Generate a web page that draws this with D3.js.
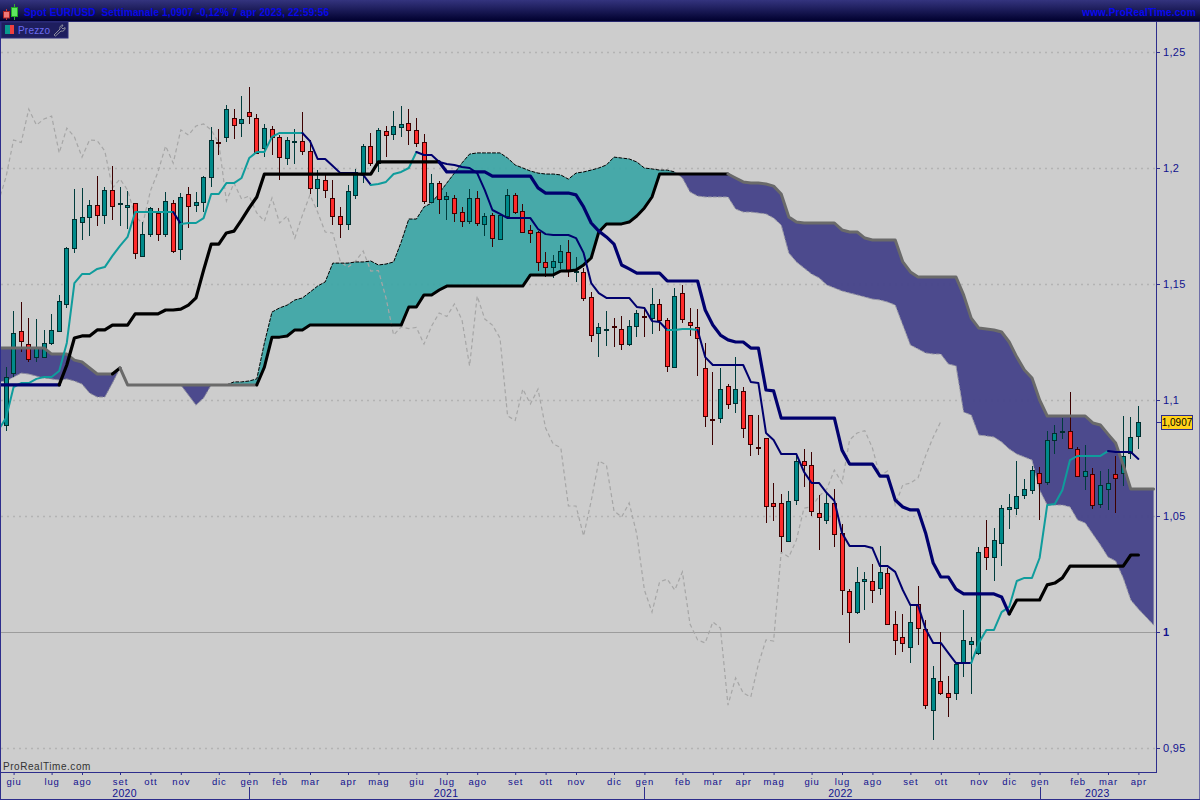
<!DOCTYPE html>
<html><head><meta charset="utf-8"><script src="https://cdn.jsdelivr.net/npm/d3@7/dist/d3.min.js"></script>
<style>html,body{margin:0;padding:0;background:#cdcdcd}svg{display:block}text{font-family:"Liberation Sans",Arial,sans-serif}</style>
</head><body><svg id="c" width="1200" height="800"></svg>
<script>
// weekly candles, index 0..149
const open=[1.0892,1.1116,1.1297,1.1241,1.1185,1.1185,1.1246,1.1297,1.1414,1.1655,
1.1767,1.1789,1.1840,1.1797,1.1905,1.1843,1.1832,1.1849,1.1621,1.1715,
1.1806,1.1715,1.1849,1.1651,1.1888,1.1840,1.1853,1.1961,1.2114,1.2134,
1.2215,1.2194,1.2241,1.2215,1.2086,1.2168,1.2134,1.2043,1.2115,1.2116,
1.2073,1.1914,1.1948,1.1871,1.1793,1.1759,1.1884,1.1978,1.2095,1.2021,
1.2159,1.2146,1.2177,1.2194,1.2164,1.2112,1.1853,1.1935,1.1866,1.1871,
1.1810,1.1771,1.1871,1.1759,1.1797,1.1694,1.1793,1.1884,1.1815,1.1733,
1.1724,1.1595,1.1573,1.1595,1.1638,1.1555,1.1552,1.1444,1.1289,1.1304,
1.1317,1.1306,1.1241,1.1319,1.1364,1.1353,1.1414,1.1345,1.1142,1.1461,
1.1336,1.1315,1.1138,1.0916,1.0922,1.1060,1.0987,1.1039,1.0935,1.0799,
1.0836,1.0556,1.0556,1.0392,1.0569,1.0737,1.0720,1.0513,1.0483,1.0556,
1.0427,1.0177,1.0086,1.0220,1.0220,1.0190,1.0254,1.0034,0.9978,0.9935,
1.0121,1.0013,0.9664,0.9789,0.9737,0.9737,0.9866,0.9948,0.9909,1.0366,
1.0323,1.0384,1.0530,1.0534,1.0590,1.0612,1.0685,1.0647,1.0828,1.0864,
1.0866,1.0789,1.0672,1.0681,1.0552,1.0616,1.0681,1.0685,1.0772,1.0845];
const close=[1.1099,1.1289,1.1254,1.1177,1.1224,1.1246,1.1302,1.1427,1.1655,1.1780,
1.1789,1.1840,1.1797,1.1905,1.1836,1.1847,1.1840,1.1634,1.1715,1.1828,
1.1715,1.1858,1.1642,1.1875,1.1836,1.1853,1.1961,1.2121,1.2110,1.2254,
1.2185,1.2211,1.2224,1.2065,1.2172,1.2134,1.2047,1.2121,1.2118,1.2073,
1.1914,1.1952,1.1905,1.1793,1.1759,1.1901,1.1983,1.2095,1.2021,1.2164,
1.2142,1.2181,1.2190,1.2164,1.2108,1.1858,1.1935,1.1866,1.1879,1.1806,
1.1771,1.1871,1.1763,1.1793,1.1698,1.1797,1.1884,1.1810,1.1724,1.1720,
1.1595,1.1573,1.1599,1.1642,1.1556,1.1558,1.1440,1.1280,1.1315,1.1308,
1.1313,1.1241,1.1319,1.1375,1.1360,1.1414,1.1345,1.1147,1.1448,1.1349,
1.1323,1.1267,1.0931,1.0912,1.1047,1.0983,1.1047,1.0879,1.0810,1.0795,
1.0543,1.0543,1.0414,1.0565,1.0737,1.0720,1.0522,1.0496,1.0556,1.0422,
1.0181,1.0086,1.0216,1.0228,1.0181,1.0259,1.0034,0.9966,0.9953,1.0043,
1.0017,0.9685,0.9802,0.9737,0.9720,0.9862,0.9966,0.9961,1.0345,1.0323,
1.0397,1.0534,1.0539,1.0586,1.0616,1.0698,1.0642,1.0828,1.0858,1.0868,
1.0793,1.0672,1.0694,1.0547,1.0634,1.0642,1.0664,1.0759,1.0840,1.0907];
const high=[1.1142,1.1384,1.1422,1.1353,1.1349,1.1302,1.1371,1.1453,1.1659,1.1909,
1.1914,1.1862,1.1965,1.1918,1.2009,1.1918,1.1901,1.1851,1.1767,1.1832,
1.1828,1.1897,1.1862,1.1892,1.1918,1.1897,1.1965,1.2177,1.2168,1.2271,
1.2254,1.2310,1.2349,1.2233,1.2190,1.2181,1.2142,1.2134,1.2168,1.2241,
1.2121,1.1991,1.1974,1.1948,1.1832,1.1927,1.1996,1.2103,1.2151,1.2172,
1.2181,1.2246,1.2267,1.2254,1.2215,1.2146,1.1974,1.1944,1.1897,1.1884,
1.1832,1.1909,1.1901,1.1806,1.1806,1.1799,1.1909,1.1892,1.1845,1.1754,
1.1728,1.1638,1.1625,1.1668,1.1690,1.1616,1.1569,1.1465,1.1332,1.1384,
1.1353,1.1362,1.1345,1.1388,1.1401,1.1483,1.1435,1.1353,1.1483,1.1496,
1.1397,1.1392,1.1246,1.1121,1.1138,1.1069,1.1185,1.1056,1.0937,1.0935,
1.0838,1.0642,1.0595,1.0608,1.0763,1.0789,1.0776,1.0590,1.0603,1.0616,
1.0466,1.0185,1.0280,1.0259,1.0293,1.0371,1.0276,1.0091,1.0078,1.0116,
1.0198,1.0052,0.9853,1.0000,0.9810,0.9866,1.0095,0.9978,1.0366,1.0483,
1.0448,1.0547,1.0595,1.0737,1.0659,1.0715,1.0711,1.0866,1.0892,1.0922,
1.1034,1.0797,1.0806,1.0707,1.0694,1.0703,1.0759,1.0931,1.0927,1.0974];
const low=[1.0866,1.1099,1.1207,1.1164,1.1164,1.1181,1.1237,1.1295,1.1397,1.1634,
1.1690,1.1707,1.1750,1.1759,1.1776,1.1750,1.1737,1.1608,1.1616,1.1703,
1.1685,1.1703,1.1634,1.1603,1.1741,1.1810,1.1810,1.1918,1.2056,1.2112,
1.2125,1.2134,1.2190,1.2063,1.2047,1.2056,1.1948,1.2013,1.2017,1.2056,
1.1888,1.1832,1.1871,1.1754,1.1698,1.1733,1.1866,1.1935,1.2009,1.1983,
1.2047,1.2121,1.2134,1.2099,1.2090,1.1845,1.1849,1.1802,1.1776,1.1767,
1.1746,1.1759,1.1750,1.1707,1.1659,1.1692,1.1789,1.1802,1.1720,1.1677,
1.1556,1.1530,1.1526,1.1565,1.1530,1.1509,1.1427,1.1250,1.1185,1.1233,
1.1228,1.1215,1.1233,1.1271,1.1271,1.1284,1.1297,1.1121,1.1138,1.1332,
1.1276,1.1103,1.0884,1.0806,1.0901,1.0961,1.0944,1.0836,1.0759,1.0763,
1.0470,1.0478,1.0345,1.0388,1.0547,1.0625,1.0500,1.0353,1.0466,1.0366,
1.0073,0.9953,1.0078,1.0095,1.0125,1.0159,1.0030,0.9901,0.9914,0.9866,
0.9944,0.9668,0.9534,0.9728,0.9634,0.9707,0.9806,0.9733,0.9901,1.0267,
1.0220,1.0284,1.0444,1.0504,1.0573,1.0595,1.0483,1.0634,1.0767,1.0832,
1.0791,1.0668,1.0612,1.0530,1.0534,1.0526,1.0513,1.0629,1.0746,1.0789];
// line series below start one week before the first candle (index -1)
const tenkan=[1.0871,
1.0922,1.1056,1.1073,1.1073,1.1091,1.1099,1.1099,1.1125,1.1246,1.1504,
1.1543,1.1543,1.1565,1.1573,1.1621,1.1664,1.1703,1.1810,1.1810,1.1810,
1.1810,1.1810,1.1810,1.1759,1.1763,1.1763,1.1784,1.1888,1.1888,1.1935,
1.1935,1.1957,1.2043,1.2069,1.2069,1.2134,1.2151,1.2151,1.2151,1.2151,
1.2116,1.2039,1.2039,1.2009,1.1978,1.1978,1.1978,1.1970,1.1927,1.1931,
1.1940,1.1974,1.1983,1.2000,1.2069,1.2056,1.2056,1.2026,1.2017,1.2013,
1.2004,1.2000,1.1978,1.1905,1.1819,1.1802,1.1784,1.1784,1.1784,1.1784,
1.1737,1.1715,1.1711,1.1711,1.1711,1.1698,1.1634,1.1504,1.1461,1.1440,
1.1440,1.1440,1.1440,1.1401,1.1397,1.1340,1.1336,1.1302,1.1302,1.1306,
1.1306,1.1302,1.1185,1.1151,1.1151,1.1151,1.1151,1.1151,1.1078,1.1073,
1.0858,1.0828,1.0767,1.0767,1.0767,1.0690,1.0642,1.0642,1.0599,1.0565,
1.0427,1.0371,1.0371,1.0371,1.0362,1.0284,1.0284,1.0259,1.0181,1.0116,
1.0116,1.0013,0.9953,0.9953,0.9909,0.9866,0.9866,0.9866,0.9953,1.0009,
1.0009,1.0086,1.0108,1.0220,1.0233,1.0233,1.0319,1.0547,1.0552,1.0612,
1.0741,1.0759,1.0759,1.0759,1.0759,1.0780,1.0776,1.0776,1.0776,1.0746];
const kijun=[1.1065,
1.1065,1.1065,1.1065,1.1065,1.1065,1.1065,1.1065,1.1065,1.1151,1.1267,
1.1276,1.1276,1.1302,1.1302,1.1323,1.1323,1.1323,1.1371,1.1371,1.1371,
1.1371,1.1388,1.1388,1.1392,1.1409,1.1440,1.1560,1.1672,1.1672,1.1720,
1.1728,1.1776,1.1828,1.1875,1.1974,1.1974,1.1974,1.1974,1.1974,1.1974,
1.1974,1.1974,1.1974,1.1974,1.1974,1.1974,1.1974,1.1974,1.1974,1.2026,
1.2026,1.2026,1.2026,1.2026,1.2026,1.2026,1.2026,1.2026,1.1983,1.1983,
1.1983,1.1983,1.1983,1.1983,1.1965,1.1965,1.1965,1.1965,1.1965,1.1965,
1.1914,1.1892,1.1892,1.1892,1.1892,1.1884,1.1832,1.1763,1.1728,1.1703,
1.1672,1.1582,1.1565,1.1547,1.1547,1.1547,1.1547,1.1513,1.1513,1.1513,
1.1513,1.1513,1.1388,1.1323,1.1280,1.1259,1.1250,1.1250,1.1224,1.1224,
1.1043,1.1039,1.0922,1.0922,1.0922,1.0922,1.0922,1.0922,1.0922,1.0922,
1.0784,1.0724,1.0724,1.0724,1.0724,1.0672,1.0672,1.0569,1.0539,1.0526,
1.0526,1.0427,1.0297,1.0237,1.0237,1.0185,1.0164,1.0164,1.0164,1.0164,
1.0164,1.0151,1.0078,1.0138,1.0138,1.0138,1.0138,1.0203,1.0211,1.0233,
1.0284,1.0284,1.0284,1.0284,1.0284,1.0284,1.0284,1.0284,1.0332,1.0332];
// lagging span, index -1..123
const lagging=[1.1853,1.1961,1.2121,1.2110,1.2254,
1.2185,1.2211,1.2224,1.2065,1.2172,1.2134,1.2047,1.2121,1.2118,1.2073,
1.1914,1.1952,1.1905,1.1793,1.1759,1.1901,1.1983,1.2095,1.2021,1.2164,
1.2142,1.2181,1.2190,1.2164,1.2108,1.1858,1.1935,1.1866,1.1879,1.1806,
1.1771,1.1871,1.1763,1.1793,1.1698,1.1797,1.1884,1.1810,1.1724,1.1720,
1.1595,1.1573,1.1599,1.1642,1.1556,1.1558,1.1440,1.1280,1.1315,1.1308,
1.1313,1.1241,1.1319,1.1375,1.1360,1.1414,1.1345,1.1147,1.1448,1.1349,
1.1323,1.1267,1.0931,1.0912,1.1047,1.0983,1.1047,1.0879,1.0810,1.0795,
1.0543,1.0543,1.0414,1.0565,1.0737,1.0720,1.0522,1.0496,1.0556,1.0422,
1.0181,1.0086,1.0216,1.0228,1.0181,1.0259,1.0034,0.9966,0.9953,1.0043,
1.0017,0.9685,0.9802,0.9737,0.9720,0.9862,0.9966,0.9961,1.0345,1.0323,
1.0397,1.0534,1.0539,1.0586,1.0616,1.0698,1.0642,1.0828,1.0858,1.0868,
1.0793,1.0672,1.0694,1.0547,1.0634,1.0642,1.0664,1.0759,1.0840,1.0907];
// cloud edges, index -1..151
const spanA=[1.1078,
1.1082,1.1099,1.1116,1.1112,1.1103,1.1095,1.1091,1.1086,1.1091,1.1082,
1.1069,1.1030,1.1013,1.1013,1.1073,1.1138,1.1065,1.1065,1.1065,1.1065,
1.1065,1.1065,1.1065,1.1065,1.1022,1.0978,1.1009,1.1065,1.1065,1.1065,
1.1078,1.1078,1.1082,1.1091,1.1246,1.1379,1.1397,1.1409,1.1431,1.1440,
1.1465,1.1491,1.1509,1.1590,1.1590,1.1590,1.1595,1.1595,1.1599,1.1582,
1.1586,1.1595,1.1681,1.1780,1.1780,1.1832,1.1849,1.1892,1.1935,1.1978,
1.2022,1.2060,1.2065,1.2065,1.2065,1.2065,1.2043,1.2013,1.2000,1.1987,
1.1978,1.1974,1.1974,1.1970,1.1952,1.1978,1.1983,1.1991,1.2000,1.2013,
1.2047,1.2043,1.2039,1.2026,1.2000,1.1996,1.1991,1.1991,1.1983,1.1957,
1.1897,1.1879,1.1875,1.1875,1.1875,1.1875,1.1823,1.1810,1.1810,1.1806,
1.1802,1.1784,1.1754,1.1634,1.1595,1.1569,1.1543,1.1526,1.1496,1.1483,
1.1470,1.1461,1.1453,1.1444,1.1435,1.1431,1.1422,1.1409,1.1323,1.1237,
1.1220,1.1203,1.1198,1.1198,1.1155,1.1147,1.0948,1.0935,1.0849,1.0845,
1.0840,1.0819,1.0789,1.0767,1.0754,1.0741,1.0612,1.0547,1.0547,1.0547,
1.0539,1.0483,1.0470,1.0422,1.0375,1.0323,1.0306,1.0233,1.0138,1.0099,1.0065,1.0030];
const spanB=[1.1224,
1.1224,1.1224,1.1224,1.1224,1.1224,1.1224,1.1198,1.1198,1.1198,1.1172,
1.1164,1.1138,1.1112,1.1112,1.1112,1.1138,1.1065,1.1065,1.1065,1.1065,
1.1065,1.1065,1.1065,1.1065,1.1065,1.1065,1.1065,1.1065,1.1065,1.1065,
1.1065,1.1065,1.1065,1.1065,1.1142,1.1271,1.1271,1.1276,1.1302,1.1302,
1.1323,1.1323,1.1323,1.1323,1.1323,1.1323,1.1323,1.1323,1.1323,1.1323,
1.1323,1.1323,1.1323,1.1401,1.1401,1.1453,1.1453,1.1474,1.1491,1.1491,
1.1491,1.1491,1.1491,1.1491,1.1491,1.1491,1.1491,1.1491,1.1491,1.1539,
1.1539,1.1539,1.1539,1.1556,1.1556,1.1560,1.1582,1.1612,1.1724,1.1759,
1.1759,1.1759,1.1767,1.1793,1.1828,1.1875,1.1974,1.1974,1.1974,1.1974,
1.1974,1.1974,1.1974,1.1974,1.1974,1.1974,1.1957,1.1940,1.1935,1.1935,
1.1931,1.1922,1.1888,1.1789,1.1767,1.1763,1.1763,1.1763,1.1763,1.1763,
1.1733,1.1724,1.1724,1.1698,1.1690,1.1690,1.1690,1.1690,1.1595,1.1552,
1.1530,1.1530,1.1530,1.1530,1.1530,1.1530,1.1453,1.1353,1.1310,1.1306,
1.1302,1.1293,1.1250,1.1185,1.1129,1.1095,1.1000,1.0931,1.0931,1.0931,
1.0931,1.0931,1.0931,1.0901,1.0892,1.0853,1.0815,1.0720,1.0616,1.0616,1.0616,1.0616];
const priceTicks=[0.95,1,1.05,1.1,1.15,1.2,1.25];
const monthLabels=["giu","lug","ago","set","ott","nov","dic","gen","feb","mar","apr","mag","giu","lug","ago","set","ott","nov","dic","gen","feb","mar","apr","mag","giu","lug","ago","set","ott","nov","dic","gen","feb","mar","apr"];
const monthIndex=[1,6,10,15,19,23,28,32,36,40,45,49,54,58,62,67,71,75,80,84,89,93,97,101,106,110,114,119,123,128,132,136,141,145,149];
const yearLabels=["2020","2021","2022","2023"];
const yearIndex=[15.6,57.9,109.8,143.6];
const yearStartIndex=[32,84,136];
const lastPrice=1.0907;
const title="Spot EUR/USD  Settimanale 1,0907 -0,12% 7 apr 2023, 22:59:56";
// colour runs (index ranges)
const TEAL="#0f9c9c",NAVY="#00006e",BLACK="#000",GRAY="#6a6a6a";
const tenkanRuns=[[-1,22,TEAL],[22,23,NAVY],[23,39,TEAL],[39,48,NAVY],[48,54,TEAL],[54,87,NAVY],[87,91,TEAL],[91,127,NAVY],[127,145,TEAL],[145,149,NAVY]];
const kijunRuns=[[-1,7,NAVY],[7,57,BLACK],[57,132,NAVY],[132,149,BLACK]];
const spanBRuns=[[-1,14,GRAY],[14,15,BLACK],[15,33,GRAY],[33,95,BLACK],[95,151,GRAY]];
const spanADash=[[-1,29,"#8a8a9a"],[29,88,"#000"],[88,151,"#9a9aa6"]];

const svg=d3.select("#c");
const x=d3.scaleLinear().domain([0,149]).range([6,1138.4]);
const y=d3.scaleLinear().domain([0.95,1.25]).range([748,52]);
const defs=svg.append("defs");
const grad=defs.append("linearGradient").attr("id","hd").attr("x1",0).attr("x2",0).attr("y1",0).attr("y2",1);
grad.append("stop").attr("offset",0).attr("stop-color","#34347e");
grad.append("stop").attr("offset",1).attr("stop-color","#00002e");
defs.append("clipPath").attr("id","plot").append("rect").attr("x",1).attr("y",21).attr("width",1155).attr("height",751);
svg.append("rect").attr("width",1200).attr("height",800).attr("fill","#cdcdcd");

const plot=svg.append("g").attr("clip-path","url(#plot)");
plot.selectAll("line.g").data(priceTicks).join("line").attr("class","g")
 .attr("x1",1).attr("x2",1156).attr("y1",d=>Math.round(y(d))+.5).attr("y2",d=>Math.round(y(d))+.5)
 .attr("stroke",d=>d===1?"#9c9c9c":"#b3b3b3").attr("stroke-width",d=>d===1?1:1.4)
 .attr("stroke-dasharray",d=>d===1?null:"2 4");

// cloud
const cloudPts=[];
spanA.forEach((a,k)=>{const i=k-1,b=spanB[k];cloudPts.push({i,a,b});
 if(k<spanA.length-1){const a2=spanA[k+1],b2=spanB[k+1];
  if((a-b)*(a2-b2)<0){const t=(a-b)/((a-b)-(a2-b2));const v=a+t*(a2-a);cloudPts.push({i:i+t,a:v,b:v});}}});
const areaT=d3.area().x(d=>x(d.i)).y0(d=>y(d.a)).y1(d=>y(Math.min(d.a,d.b)));
const areaP=d3.area().x(d=>x(d.i)).y0(d=>y(d.b)).y1(d=>y(Math.min(d.a,d.b)));
plot.append("path").attr("d",areaT(cloudPts)).attr("fill","#3fa7a7").attr("fill-opacity",.95);
plot.append("path").attr("d",areaP(cloudPts)).attr("fill","#47458a").attr("fill-opacity",.97);

const lineOf=(arr,start)=>d3.line().x((d,k)=>x(k+start)).y(d=>y(d));
function runs(arr,start,list,w,extra){
 list.forEach(([a,b,c])=>{const seg=arr.slice(a-start,b-start+1);
  const p=plot.append("path").attr("d",lineOf(seg,a)(seg)).attr("fill","none").attr("stroke",c).attr("stroke-width",w).attr("stroke-linejoin","round").attr("stroke-linecap","round");
  if(extra)p.attr("stroke-dasharray",extra);});
}
// lagging span
plot.append("path").attr("d",lineOf(lagging,-1)(lagging)).attr("fill","none").attr("stroke","#a6a6a6").attr("stroke-width",1.2).attr("stroke-dasharray","4 3");
runs(spanA,-1,spanADash,1,"3 2");

// candles, snapped to the pixel grid
const idx=d3.range(open.length);
const isUp=i=>close[i]>=open[i];
const px=i=>Math.floor(x(i))+.5;
const cg=plot.append("g").attr("shape-rendering","crispEdges");
cg.selectAll("line.w").data(idx).join("line").attr("class","w")
 .attr("x1",px).attr("x2",px).attr("y1",i=>y(high[i])).attr("y2",i=>y(low[i]))
 .attr("stroke",i=>isUp(i)?"#003c3c":"#3c0000").attr("stroke-width",1);
cg.selectAll("rect.b").data(idx).join("rect").attr("class","b")
 .attr("x",i=>px(i)-2).attr("width",4)
 .attr("y",i=>Math.round(y(Math.max(open[i],close[i])))+.5)
 .attr("height",i=>Math.max(1,Math.round(Math.abs(y(open[i])-y(close[i])))))
 .attr("fill",i=>isUp(i)?"#008a8a":"#ff2b2b").attr("stroke",i=>isUp(i)?"#002e2e":"#3c0000").attr("stroke-width",1);

runs(spanB,-1,spanBRuns,3);
runs(tenkan,-1,tenkanRuns,2);
runs(kijun,-1,kijunRuns,3.2);

// frame
const BLUE="#2d2d8c",TXT="#12128e";
svg.append("rect").attr("x",0).attr("y",0).attr("width",1).attr("height",800).attr("fill",BLUE);
svg.append("rect").attr("x",1199).attr("y",0).attr("width",1).attr("height",800).attr("fill","#6f6fa8");
svg.append("rect").attr("x",0).attr("y",799).attr("width",1200).attr("height",1).attr("fill",BLUE);

// right axis
const yAxis=d3.axisRight(y).tickValues(priceTicks).tickSize(4).tickFormat(d=>d===1?"1":String(d).replace(".",","));
const gy=svg.append("g").attr("transform","translate(1156,0)").call(yAxis);
gy.select(".domain").remove();
gy.selectAll("line").attr("stroke",BLUE);
gy.selectAll("text").attr("fill",TXT).attr("x",7).attr("font-size",11).attr("font-weight",d=>d===1?"bold":null).attr("letter-spacing",".3");
svg.append("line").attr("x1",1156.5).attr("x2",1156.5).attr("y1",21).attr("y2",773).attr("stroke",BLUE);

// bottom axis
const xAxis=d3.axisBottom(x).tickValues(monthIndex).tickSize(3).tickFormat((d,i)=>monthLabels[i]);
const gx=svg.append("g").attr("transform","translate(0,772)").call(xAxis);
gx.select(".domain").remove();
gx.selectAll("line").attr("stroke",BLUE);
gx.selectAll("text").attr("fill",TXT).attr("y",6).attr("font-size",9.5).attr("letter-spacing",".9");
svg.append("line").attr("x1",0).attr("x2",1157).attr("y1",772.5).attr("y2",772.5).attr("stroke",BLUE);
svg.selectAll("line.yr").data(yearStartIndex).join("line").attr("class","yr").attr("x1",d=>Math.round(x(d))+.5).attr("x2",d=>Math.round(x(d))+.5).attr("y1",787).attr("y2",799).attr("stroke",BLUE);
svg.selectAll("text.yr").data(yearLabels).join("text").attr("class","yr").attr("x",(d,i)=>x(yearIndex[i])).attr("y",796.5).attr("text-anchor","middle").attr("font-size",10.5).attr("letter-spacing",".3").attr("fill",TXT).text(d=>d);
svg.append("text").attr("x",3).attr("y",770).attr("font-size",10).attr("letter-spacing",".55").attr("fill","#333").text("ProRealTime.com");

// price tag
const py=Math.round(y(lastPrice))+.5;
svg.append("line").attr("x1",1157).attr("x2",1161).attr("y1",py).attr("y2",py).attr("stroke",BLUE);
svg.append("rect").attr("x",1161.5).attr("y",py-7).attr("width",31).attr("height",14).attr("fill","#ffd21a").attr("stroke",BLUE);
svg.append("text").attr("x",1177).attr("y",py+3.5).attr("text-anchor","middle").attr("font-size",10).attr("fill","#000").text("1,0907");

// header
svg.append("rect").attr("width",1200).attr("height",21).attr("fill","url(#hd)");
svg.append("rect").attr("y",21).attr("width",1200).attr("height",1).attr("fill","#26266e");
svg.append("text").attr("x",24).attr("y",16).attr("font-size",10).attr("font-weight","bold").attr("letter-spacing",".14").attr("fill","#0808e8").style("white-space","pre").text(title);
svg.append("text").attr("x",1196).attr("y",16).attr("text-anchor","end").attr("font-size",10).attr("font-weight","bold").attr("letter-spacing",".2").attr("fill","#0808f0").text("www.ProRealTime.com");
// logo
const logo=svg.append("g");
logo.append("line").attr("x1",6.5).attr("x2",6.5).attr("y1",9).attr("y2",20).attr("stroke","#c33");
logo.append("rect").attr("x",3.5).attr("y",11.5).attr("width",6).attr("height",6.5).attr("fill","#f07878").attr("stroke","#a22");
logo.append("line").attr("x1",14.5).attr("x2",14.5).attr("y1",4).attr("y2",20).attr("stroke","#3a3");
logo.append("rect").attr("x",11.5).attr("y",7.5).attr("width",6).attr("height",9).attr("fill","#5fe65f").attr("stroke","#2a2");
// legend box
svg.append("rect").attr("x",1).attr("y",22).attr("width",67).attr("height",16).attr("fill","#1e1e5e").attr("stroke","#2d2d7c");
svg.append("rect").attr("x",5).attr("y",25).attr("width",5).attr("height",9).attr("fill","#0a9a8f");
svg.append("rect").attr("x",10).attr("y",25).attr("width",4).attr("height",9).attr("fill","#f0403f");
svg.append("text").attr("x",18).attr("y",34).attr("font-size",10).attr("letter-spacing",".2").attr("fill","#6a6af0").text("Prezzo");
svg.append("path").attr("d","M54 35 L60 29 A3 3 0 0 1 63 25 L61.5 27.5 L63 29 L65 27.5 A3 3 0 0 1 61 31 L55.5 36 Z").attr("fill","none").attr("stroke","#8f8f9f");
</script></body></html>
